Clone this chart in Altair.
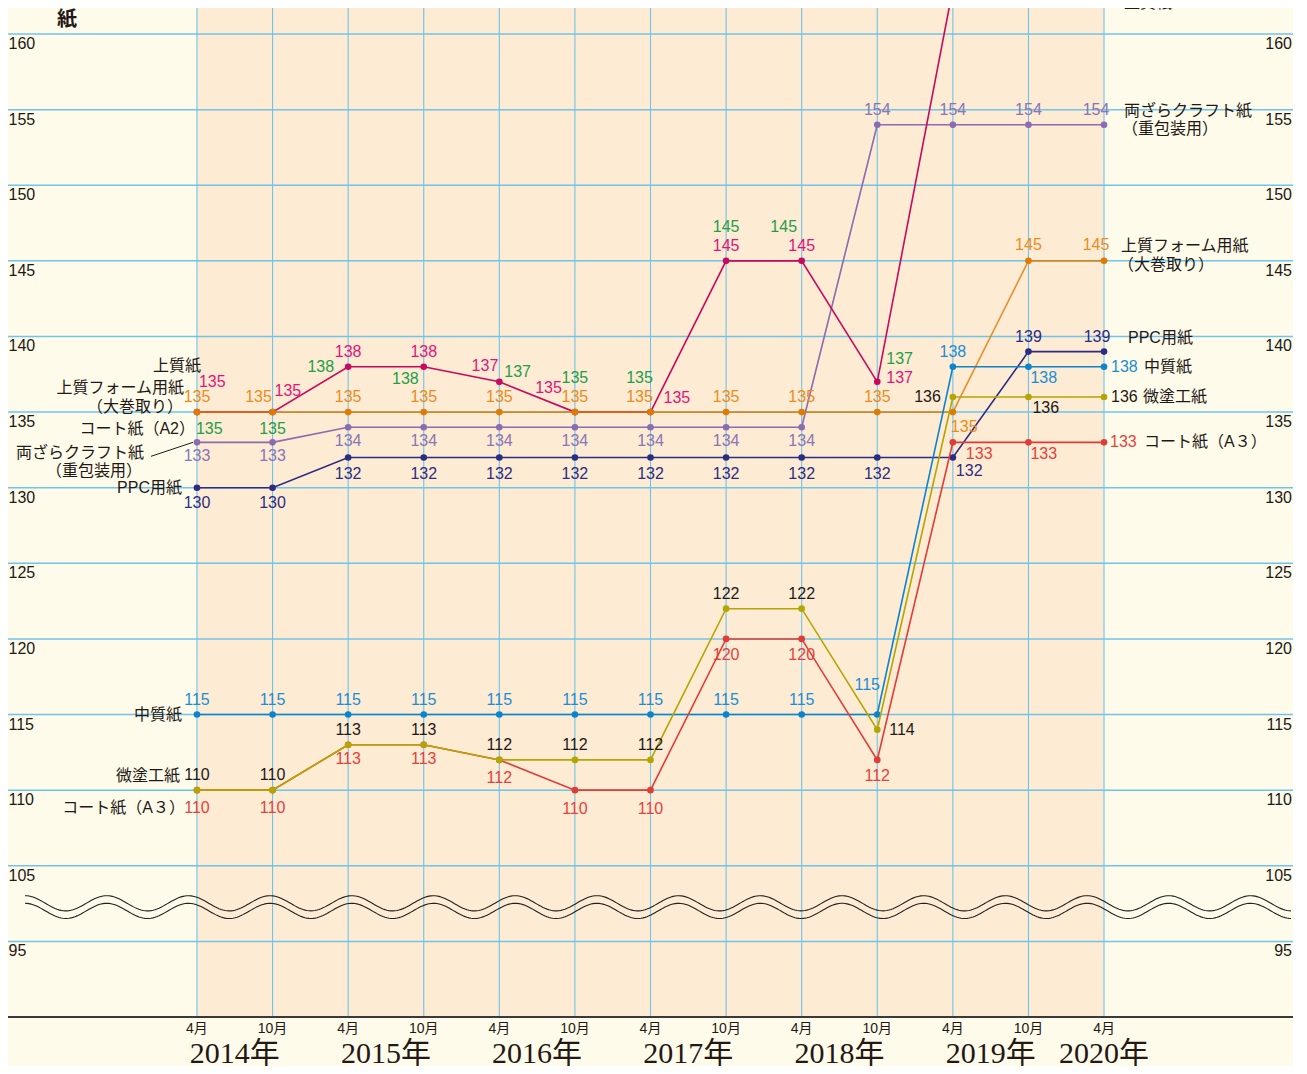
import altair as alt
import numpy as np
import pandas as pd

# ---------------- data ----------------
periods = ["2014-04", "2014-10", "2015-04", "2015-10", "2016-04", "2016-10", "2017-04",
           "2017-10", "2018-04", "2018-10", "2019-04", "2019-10", "2020-04"]
month_labels = ["4月", "10月", "4月", "10月", "4月", "10月", "4月",
                "10月", "4月", "10月", "4月", "10月", "4月"]
year_names = ["2014年", "2015年", "2016年", "2017年", "2018年", "2019年", "2020年"]

joshitsu = [135, 135, 138, 138, 137, 135, 135, 145, 145, 137, 163, 163, 163]   # 上質紙
coat_a2 = [135, 135, 138, 138, 137, 135, 135, 145, 145, 137, 163, 163, 163]    # コート紙(A2)
form = [135, 135, 135, 135, 135, 135, 135, 135, 135, 135, 135, 145, 145]       # 上質フォーム用紙
kraft = [133, 133, 134, 134, 134, 134, 134, 134, 134, 154, 154, 154, 154]      # 両ざらクラフト紙
ppc = [130, 130, 132, 132, 132, 132, 132, 132, 132, 132, 132, 139, 139]        # PPC用紙
chushitsu = [115, 115, 115, 115, 115, 115, 115, 115, 115, 115, 138, 138, 138]  # 中質紙
bitoko = [110, 110, 113, 113, 112, 112, 112, 122, 122, 114, 136, 136, 136]     # 微塗工紙
coat_a3 = [110, 110, 113, 113, 112, 110, 110, 120, 120, 112, 133, 133, 133]    # コート紙(A3)

# axis: the 100 step is cut out, so the bottom gridline (scale position 100) reads 95
ytick_pos = [100, 105, 110, 115, 120, 125, 130, 135, 140, 145, 150, 155, 160]
ytick_text = ["95", "105", "110", "115", "120", "125", "130", "135", "140", "145", "150", "155", "160"]

# ---------------- layout / style ----------------
W, H = 1285, 1009
XMIN, XMAX = -2.5, 14.5
YMIN, YMAX = 95.0, 161.72
PXI = W / (XMAX - XMIN)
PXU = H / (YMAX - YMIN)

FONT = "Liberation Sans, Noto Sans CJK JP, sans-serif"
JFONT = "Noto Sans CJK JP, sans-serif"
SERIF = "Liberation Serif, Noto Sans CJK JP, serif"
INK = "#231815"
GRID = "#6FC4EA"
BG = "#FFFBEB"
SHADE = "#FDEBD4"

xs = alt.Scale(domain=[XMIN, XMAX], nice=False, zero=False)
ys = alt.Scale(domain=[YMIN, YMAX], nice=False, zero=False)


def X(f="x"):
    return alt.X(f"{f}:Q", scale=xs, axis=None)


def Y(f="y"):
    return alt.Y(f"{f}:Q", scale=ys, axis=None)


idx = list(range(len(periods)))

# series: key -> (values, line colour, label colour)
series = {
    "kraft": (kraft, "#8C6BB0", "#8B74B3"),
    "ppc": (ppc, "#2C2C82", "#2C2C82"),
    "joshitsu": (joshitsu, "#C80A5E", "#E2137A"),
    "form": (form, "#E07A00", "#EC8B1C"),
    "chushitsu": (chushitsu, "#0B84CC", "#1A8ED3"),
    "coat_a3": (coat_a3, "#E23B35", "#E5413B"),
    "bitoko": (bitoko, "#B5A500", INK),
}
label_colors = dict((k, v[2]) for k, v in series.items())
label_colors["coat_a2"] = "#1E9E48"
values_of = dict((k, v[0]) for k, v in series.items())
values_of["coat_a2"] = coat_a2

# label placement per point: (align, dx px, dy px)
c = "center"; l = "left"; r = "right"
label_layout = {
    "joshitsu": [(l, 2, -30), (l, 2, -21), (c, 0, -15), (c, 0, -15), (r, -1, -16), (r, -13, -24),
                 (l, 13, -14), (c, 0, -15), (c, 0, -15), (l, 9, -4), (r, -10, 9), (c, 0, 14), (c, -8, 14)],
    "coat_a2": [(l, -1, 17), (c, 0, 17), (r, -14, 0), (r, -5, 12), (l, 5, -10), (c, 0, -34),
                (c, -11, -34), (c, 0, -34), (c, -18, -34), (l, 9, -23), (c, 0, -34), (c, 0, -34), (c, -8, -34)],
    "form": [(c, 0, -15), (c, -14, -15), (c, 0, -15), (c, 0, -15), (c, 0, -15), (c, 0, -15),
             (c, -11, -15), (c, 0, -15), (c, 0, -15), (c, 0, -15), (l, -2, 15), (c, 0, -16), (c, -8, -16)],
    "kraft": [(c, 0, 14)] * 9 + [(c, 0, -15)] * 3 + [(c, -8, -15)],
    "ppc": [(c, 0, 15), (c, 0, 15)] + [(c, 0, 17)] * 8 + [(l, 3, 14), (c, 0, -15), (c, -7, -15)],
    "chushitsu": [(c, 0, -15)] * 9 + [(c, -10, -30), (c, 0, -15), (l, 2, 11), (l, 7, 0)],
    "bitoko": [(c, 0, -15)] * 9 + [(l, 12, 0), (r, -12, 0), (l, 4, 11), (l, 7, 0)],
    "coat_a3": [(c, 0, 18), (c, 0, 18), (c, 0, 14), (c, 0, 14), (c, 0, 18), (c, 0, 19), (c, 0, 19),
                (c, 0, 16), (c, 0, 16), (c, 0, 16), (l, 13, 12), (l, 2, 12), (l, 6, 0)],
}

# series names: (text, series, point index, align, dx, dy)
name_layout = [
    ("上質紙", "joshitsu", 0, r, 4, -46),
    ("上質フォーム用紙", "form", 0, r, -13, -24),
    ("（大巻取り）", "form", 0, r, -14, -5),
    ("コート紙（A2）", "coat_a2", 0, r, -2, 17),
    ("両ざらクラフト紙", "kraft", 0, r, -53, 11),
    ("（重包装用）", "kraft", 0, r, -55, 29),
    ("PPC用紙", "ppc", 0, r, -15, 0),
    ("中質紙", "chushitsu", 0, r, -15, 0),
    ("微塗工紙", "bitoko", 0, r, -17, -14),
    ("コート紙（A３）", "coat_a3", 0, r, -12, 18),
    ("上質紙", "joshitsu", 12, l, 20, 14),
    ("両ざらクラフト紙", "kraft", 12, l, 20, -14),
    ("（重包装用）", "kraft", 12, l, 18, 4),
    ("上質フォーム用紙", "form", 12, l, 17, -15),
    ("（大巻取り）", "form", 12, l, 14, 4),
    ("PPC用紙", "ppc", 12, l, 24, -14),
    ("中質紙", "chushitsu", 12, l, 40, 0),
    ("微塗工紙", "bitoko", 12, l, 39, 0),
    ("コート紙（A３）", "coat_a3", 12, l, 40, 0),
]

layers = []

# background shading for the data period
shade_df = pd.DataFrame({"x": [idx[0]], "x2": [idx[-1]], "y": [YMIN], "y2": [YMAX]})
layers.append(alt.Chart(shade_df).mark_rect(color=SHADE).encode(
    x=X(), x2="x2:Q", y=Y(), y2="y2:Q"))

# gridlines
hg = pd.DataFrame({"y": ytick_pos, "x": XMIN, "x2": XMAX})
layers.append(alt.Chart(hg).mark_rule(color=GRID, strokeWidth=1.5).encode(x=X(), x2="x2:Q", y=Y()))
vg = pd.DataFrame({"x": idx, "y": YMIN, "y2": YMAX})
layers.append(alt.Chart(vg).mark_rule(color=GRID, strokeWidth=1.1).encode(x=X(), y=Y(), y2="y2:Q"))

# axis base line
layers.append(alt.Chart(pd.DataFrame({"x": [XMIN], "x2": [XMAX], "y": [YMIN]})).mark_rule(
    color="#3A3A3A", strokeWidth=1.8).encode(x=X(), x2="x2:Q", y=Y()))

# wavy break (decoration)
wx_px = np.arange(25, 1293, 2.0)
rows = []
for k, off in enumerate([0.0, 7.6]):
    ypx = 903.3 + off - 7.6 * np.cos(2 * np.pi * (wx_px - 25) / 81.7)
    for a, b in zip(wx_px, ypx):
        rows.append({"x": XMIN + a / PXI - 8 / PXI, "y": YMIN + (1017 - b) / PXU, "w": k})
wave_df = pd.DataFrame(rows)
layers.append(alt.Chart(wave_df).mark_line(color="#222222", strokeWidth=1.1).encode(
    x=X(), y=Y(), detail="w:N"))

# data lines and markers
for key, (vals, col, _) in series.items():
    df = pd.DataFrame({"x": idx, "y": vals})
    op = 0.8 if key == "form" else 1.0
    layers.append(alt.Chart(df).mark_line(color=col, strokeWidth=1.6, opacity=op, clip=True).encode(
        x=X(), y=Y()))
    layers.append(alt.Chart(df).mark_circle(color=col, size=44, opacity=1, clip=True).encode(
        x=X(), y=Y()))

# leader line for 両ざらクラフト紙 (left)
k0 = kraft[0]
lead = pd.DataFrame({"x": [idx[0] - 46 / PXI], "y": [k0 - 14 / PXU],
                     "x2": [idx[0] - 4 / PXI], "y2": [k0]})
layers.append(alt.Chart(lead).mark_rule(color=INK, strokeWidth=1.0).encode(
    x=X(), y=Y(), x2="x2:Q", y2="y2:Q"))

# value labels
lab_rows = []
for key, lay in label_layout.items():
    vals = values_of[key]
    for i, (al, dx, dy) in enumerate(lay):
        lab_rows.append({"x": idx[i] + dx / PXI, "y": vals[i] - dy / PXU, "text": str(vals[i]),
                         "color": label_colors[key], "align": al})
lab_df = pd.DataFrame(lab_rows)
for al in [l, c, r]:
    sub = lab_df[lab_df["align"] == al]
    layers.append(alt.Chart(sub).mark_text(align=al, baseline="middle", font=FONT, fontSize=16,
                                           clip=True).encode(
        x=X(), y=Y(), text="text:N", color=alt.Color("color:N", scale=None)))

# series names
nm_rows = []
for text, key, i, al, dx, dy in name_layout:
    nm_rows.append({"x": idx[i] + dx / PXI, "y": values_of[key][i] - dy / PXU, "text": text, "align": al})
nm_df = pd.DataFrame(nm_rows)
for al in [l, r]:
    sub = nm_df[nm_df["align"] == al]
    layers.append(alt.Chart(sub).mark_text(align=al, baseline="middle", font=FONT, fontSize=16,
                                           color=INK, clip=True).encode(
        x=X(), y=Y(), text="text:N"))

# y tick labels, both sides (drawn inside the plot below each gridline)
ytl = pd.DataFrame({"y": [p - 10 / PXU for p in ytick_pos], "text": ytick_text,
                    "xl": XMIN + 0.5 / PXI, "xr": XMAX - 1 / PXI})
layers.append(alt.Chart(ytl).mark_text(align="left", baseline="middle", font=FONT, fontSize=16,
                                       color=INK).encode(x=X("xl"), y=Y(), text="text:N"))
layers.append(alt.Chart(ytl).mark_text(align="right", baseline="middle", font=FONT, fontSize=16,
                                       color=INK).encode(x=X("xr"), y=Y(), text="text:N"))

# unit label
layers.append(alt.Chart(pd.DataFrame({"x": [XMIN + 59 / PXI], "y": [160 + 14 / PXU], "text": ["紙"]})).mark_text(
    align="center", baseline="middle", font=JFONT, fontSize=20, fontWeight="bold", color=INK).encode(
    x=X(), y=Y(), text="text:N"))

# month labels
ml = pd.DataFrame({"x": idx, "y": YMIN - 12 / PXU, "text": month_labels})
layers.append(alt.Chart(ml).mark_text(align="center", baseline="middle", font=FONT, fontSize=14,
                                      color=INK).encode(x=X(), y=Y(), text="text:N"))

# year labels centred on their months
years = [p[:4] for p in periods]
ypos = []
for yn in year_names:
    ii = [i for i, yy in enumerate(years) if yy + "年" == yn]
    ypos.append(sum(ii) / len(ii))
yl = pd.DataFrame({"x": ypos, "y": YMIN - 37 / PXU, "text": year_names})
layers.append(alt.Chart(yl).mark_text(align="center", baseline="middle", font=SERIF, fontSize=30,
                                      color=INK).encode(x=X(), y=Y(), text="text:N"))

chart = alt.layer(*layers).properties(
    width=W, height=H, background=BG,
    padding={"left": 0, "top": 0, "right": 0, "bottom": 49},
    autosize=alt.AutoSizeParams(type="none"),
).configure_view(stroke=None)

chart.save("out.html", embed_options={"renderer": "svg", "actions": False})
